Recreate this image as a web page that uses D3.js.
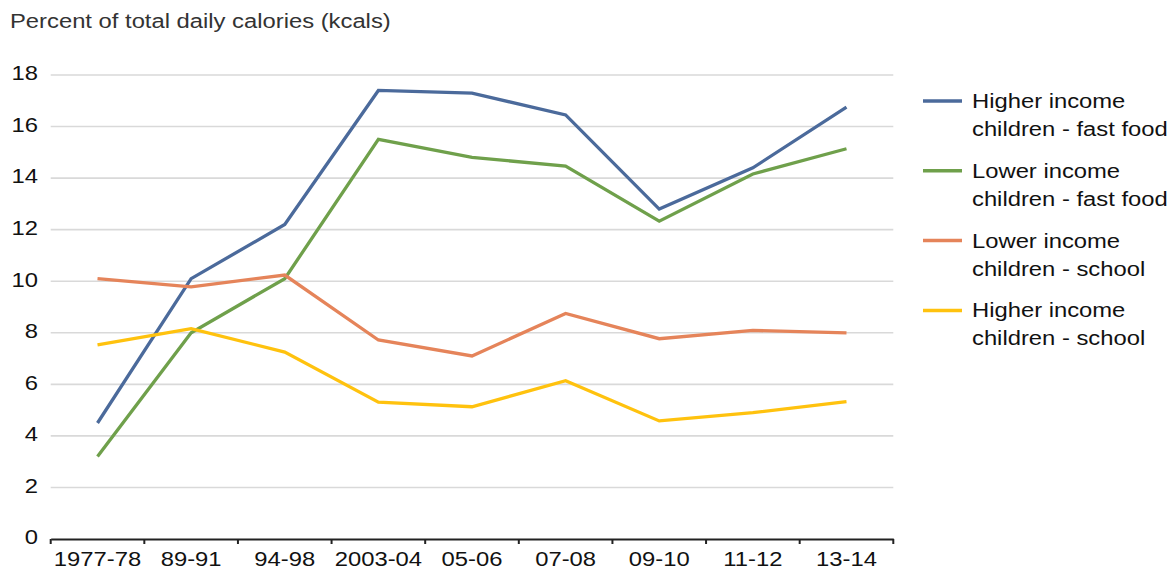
<!DOCTYPE html>
<html>
<head>
<meta charset="utf-8">
<script src="https://cdn.jsdelivr.net/npm/d3@7"></script>
<style>
  html, body { margin: 0; padding: 0; background: #fff; }
  svg { display: block; }
  text { font-family: "Liberation Sans", Arial, Helvetica, sans-serif; }
</style>
</head>
<body>
<svg id="chart" width="1176" height="571"></svg>
<script>
// Survey periods
const periods = ["1977-78", "89-91", "94-98", "2003-04", "05-06", "07-08", "09-10", "11-12", "13-14"];

// Percent of total daily calories, by source and income group
const higherFastFood = [4.5, 10.1, 12.2, 17.4, 17.3, 16.45, 12.8, 14.4, 16.75];
const lowerFastFood  = [3.2, 8.0, 10.1, 15.5, 14.8, 14.47, 12.33, 14.16, 15.14];
const lowerSchool    = [10.1, 9.78, 10.24, 7.72, 7.1, 8.75, 7.77, 8.09, 8.0];
const higherSchool   = [7.53, 8.16, 7.25, 5.31, 5.13, 6.14, 4.58, 4.9, 5.33];

const yTicks = [0, 2, 4, 6, 8, 10, 12, 14, 16, 18];

const seriesNames = [
  ["Higher income", "children - fast food"],
  ["Lower income", "children - fast food"],
  ["Lower income", "children - school"],
  ["Higher income", "children - school"]
];
const seriesColors = ["#4b6a9b", "#6fa04b", "#e5845a", "#ffc20e"];
const seriesValues = [higherFastFood, lowerFastFood, lowerSchool, higherSchool];

// Glyphs are drawn slightly wide
const SX = 1.19;
const FONT = 20;

const svg = d3.select("#chart");

const x = d3.scaleBand().domain(periods).range([50.7, 893.3]).padding(0);
const y = d3.scaleLinear().domain([0, 18]).range([539, 75]);

// Title
svg.append("text")
  .attr("transform", `translate(10,28) scale(${SX},1)`)
  .attr("font-size", FONT)
  .attr("fill", "#333")
  .text("Percent of total daily calories (kcals)");

// Horizontal gridlines
svg.append("g")
  .selectAll("line")
  .data(yTicks.filter(d => d > 0))
  .join("line")
  .attr("x1", x.range()[0])
  .attr("x2", x.range()[1])
  .attr("y1", d => y(d))
  .attr("y2", d => y(d))
  .attr("stroke", "#d9d9d9")
  .attr("stroke-width", 1.6);

// Y axis labels
const yAxis = svg.append("g")
  .attr("transform", `translate(${x.range()[0]},0)`)
  .call(d3.axisLeft(y).tickValues(yTicks).tickSize(0).tickFormat(d3.format("d")));
yAxis.select(".domain").remove();
yAxis.selectAll("text")
  .attr("font-size", FONT)
  .attr("font-family", null)
  .attr("fill", "#111")
  .attr("x", -12.7 / SX)
  .attr("dy", "4.8")
  .attr("transform", `scale(${SX},1)`);

// Series lines
const line = d3.line()
  .x((d, i) => x(periods[i]) + x.bandwidth() / 2)
  .y(d => y(d));

svg.append("g")
  .selectAll("path")
  .data(seriesValues)
  .join("path")
  .attr("d", d => line(d))
  .attr("fill", "none")
  .attr("stroke", (d, i) => seriesColors[i])
  .attr("stroke-width", 3.3)
  .attr("stroke-linejoin", "miter");

// X axis
const xAxis = svg.append("g")
  .attr("transform", `translate(0,${y(0)})`)
  .call(d3.axisBottom(x).tickSize(0).tickSizeOuter(0));
xAxis.select(".domain")
  .attr("stroke", "#222")
  .attr("stroke-width", 2.2);
xAxis.selectAll("text")
  .attr("font-size", FONT)
  .attr("font-family", null)
  .attr("fill", "#111")
  .attr("y", 27)
  .attr("dy", 0)
  .attr("transform", `scale(${SX},1)`);

// Category boundary ticks
const boundaries = periods.map(p => x(p)).concat([x.range()[1]]);
xAxis.append("g")
  .selectAll("line")
  .data(boundaries)
  .join("line")
  .attr("x1", d => d)
  .attr("x2", d => d)
  .attr("y1", 0)
  .attr("y2", 5)
  .attr("stroke", "#222")
  .attr("stroke-width", 2);

// Legend
const legend = svg.append("g").attr("transform", "translate(923,101)");
const items = legend.selectAll("g")
  .data(seriesNames)
  .join("g")
  .attr("transform", (d, i) => `translate(0,${i * 69.8})`);
items.append("line")
  .attr("x1", 0).attr("x2", 39)
  .attr("y1", 0).attr("y2", 0)
  .attr("stroke", (d, i) => seriesColors[i])
  .attr("stroke-width", 3.5);
const lt = items.append("text")
  .attr("transform", `translate(49,7) scale(${SX},1)`)
  .attr("font-size", FONT)
  .attr("fill", "#111");
lt.append("tspan").attr("x", 0).attr("y", 0).text(d => d[0]);
lt.append("tspan").attr("x", 0).attr("y", 28).text(d => d[1]);
</script>
</body>
</html>
